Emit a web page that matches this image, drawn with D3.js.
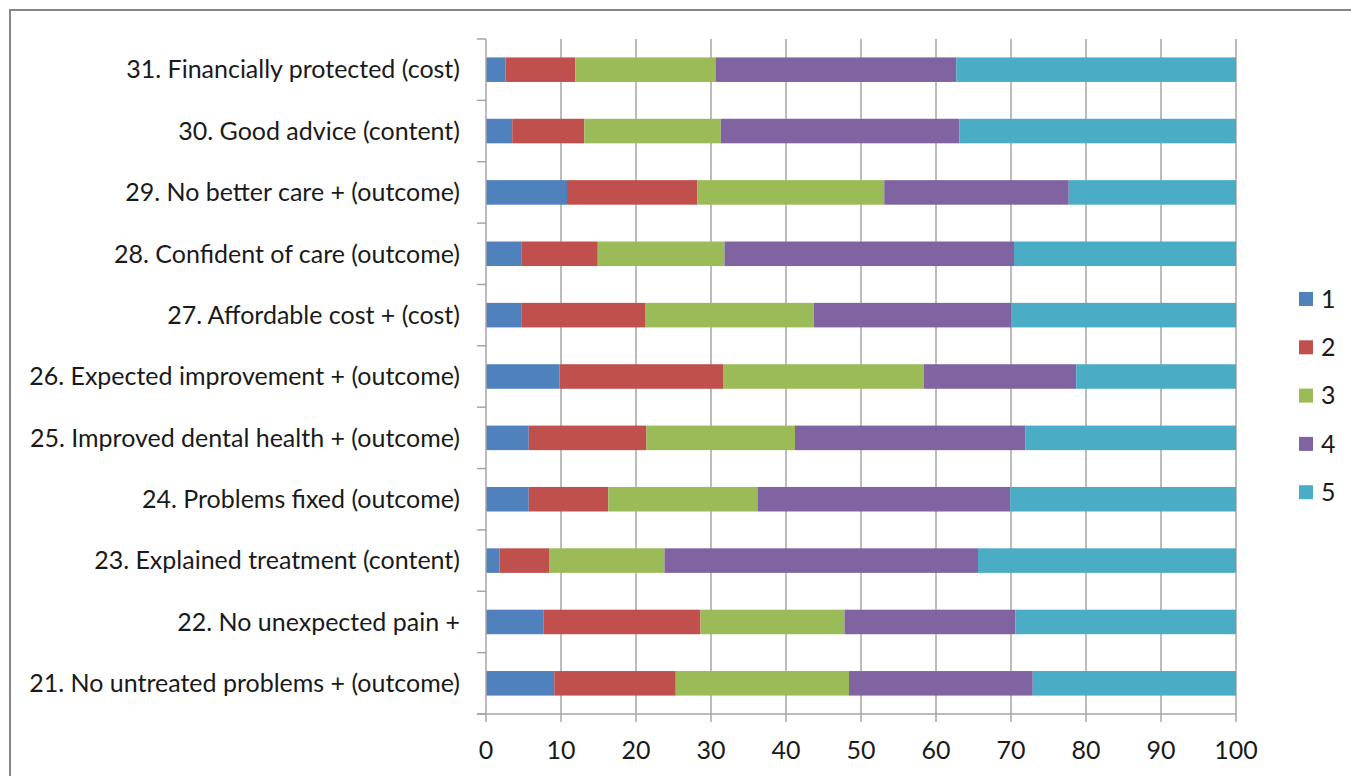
<!DOCTYPE html>
<html>
<head>
<meta charset="utf-8">
<script src="https://cdn.jsdelivr.net/npm/d3@7"></script>
<style>
  html, body { margin: 0; padding: 0; background: #fff; }
  svg { display: block; }
  text { font-family: Lato, "Open Sans", sans-serif; fill: #1a1a1a; }
</style>
</head>
<body>
<svg width="1351" height="776"></svg>
<script>
// questions, top to bottom
var categories = [
    "31. Financially protected (cost)",
    "30. Good advice (content)",
    "29. No better care + (outcome)",
    "28. Confident of care (outcome)",
    "27. Affordable cost + (cost)",
    "26. Expected improvement + (outcome)",
    "25. Improved dental health + (outcome)",
    "24. Problems fixed (outcome)",
    "23. Explained treatment (content)",
    "22. No unexpected pain +",
    "21. No untreated problems + (outcome)"
];

var seriesNames = ["1", "2", "3", "4", "5"];

// percentages per answer, same order as categories
var s1 = [2.6, 3.5, 10.8, 4.7, 4.7, 9.8, 5.7, 5.7, 1.8, 7.7, 9.1];
var s2 = [9.3, 9.6, 17.4, 10.2, 16.5, 21.8, 15.7, 10.6, 6.6, 20.9, 16.2];
var s3 = [18.7, 18.2, 24.9, 16.9, 22.5, 26.8, 19.8, 19.9, 15.4, 19.2, 23.1];
var s4 = [32.1, 31.8, 24.6, 38.6, 26.3, 20.3, 30.7, 33.7, 41.8, 22.8, 24.5];
var s5 = [37.3, 36.9, 22.3, 29.6, 30.0, 21.3, 28.1, 30.1, 34.4, 29.4, 27.1];

var xTicks = [0, 10, 20, 30, 40, 50, 60, 70, 80, 90, 100];

var colors = ["#4f81bd", "#c0504d", "#9bbb59", "#8064a2", "#4bacc6"];

var svg = d3.select("svg");

// chart frame
svg.append("rect")
    .attr("x", 10).attr("y", 10)
    .attr("width", 1400).attr("height", 800)
    .attr("fill", "none")
    .attr("stroke", "#868686")
    .attr("stroke-width", 2);

var x = d3.scaleLinear().domain([0, 100]).range([486, 1236]);
var y = d3.scaleBand().domain(categories).range([39, 714])
    .paddingInner(0.6).paddingOuter(0.3);

var rows = categories.map(function(c, i) {
    return { cat: c, "1": s1[i], "2": s2[i], "3": s3[i], "4": s4[i], "5": s5[i] };
});
var stacked = d3.stack().keys(seriesNames)(rows);

// gridlines
svg.append("g").selectAll("line")
    .data(xTicks.slice(1))
    .enter().append("line")
    .attr("x1", function(d) { return x(d); })
    .attr("x2", function(d) { return x(d); })
    .attr("y1", 39).attr("y2", 714)
    .attr("stroke", "#a6a6a6")
    .attr("stroke-width", 1.5);

// bars
svg.append("g").selectAll("g")
    .data(stacked)
    .enter().append("g")
    .attr("fill", function(d, i) { return colors[i]; })
    .selectAll("rect")
    .data(function(d) { return d; })
    .enter().append("rect")
    .attr("x", function(d) { return x(d[0]); })
    .attr("width", function(d) { return x(d[1]) - x(d[0]); })
    .attr("y", function(d) { return y(d.data.cat); })
    .attr("height", y.bandwidth());

// y axis
var step = y.step();
var yTickPos = d3.range(categories.length + 1).map(function(i) { return 39 + i * step; });
var ya = svg.append("g");
ya.append("line")
    .attr("x1", 486).attr("x2", 486).attr("y1", 39).attr("y2", 714)
    .attr("stroke", "#a6a6a6").attr("stroke-width", 1.5);
ya.selectAll("line.tick")
    .data(yTickPos)
    .enter().append("line")
    .attr("class", "tick")
    .attr("x1", 477).attr("x2", 486)
    .attr("y1", function(d) { return d; })
    .attr("y2", function(d) { return d; })
    .attr("stroke", "#a6a6a6").attr("stroke-width", 1.5);

var labels = ya.selectAll("text")
    .data(categories)
    .enter().append("text")
    .attr("x", 460)
    .attr("y", function(d) { return y(d) + y.bandwidth() / 2; })
    .attr("dy", "0.35em")
    .attr("text-anchor", "end")
    .style("font-size", "21px")
    .text(function(d) { return d; });

// fit label size to the reference width of the longest label
var w = labels.filter(function(d, i) { return i === categories.length - 1; }).node().getComputedTextLength();
var fs = 21 * 431 / w;
labels.style("font-size", fs + "px");

// x axis
var xa = svg.append("g");
xa.append("line")
    .attr("x1", 477).attr("x2", 1236).attr("y1", 714).attr("y2", 714)
    .attr("stroke", "#a6a6a6").attr("stroke-width", 1.5);
xa.selectAll("line.tick")
    .data(xTicks)
    .enter().append("line")
    .attr("class", "tick")
    .attr("x1", function(d) { return x(d); })
    .attr("x2", function(d) { return x(d); })
    .attr("y1", 714).attr("y2", 722)
    .attr("stroke", "#a6a6a6").attr("stroke-width", 1.5);
xa.selectAll("text")
    .data(xTicks)
    .enter().append("text")
    .attr("x", function(d) { return x(d); })
    .attr("y", 750)
    .attr("dy", "0.35em")
    .attr("text-anchor", "middle")
    .style("font-size", fs + "px")
    .text(function(d) { return d; });

// legend
var legend = svg.append("g").selectAll("g")
    .data(seriesNames)
    .enter().append("g")
    .attr("transform", function(d, i) { return "translate(1299," + (299 + i * 48.3) + ")"; });
legend.append("rect")
    .attr("x", 0).attr("y", -7)
    .attr("width", 14).attr("height", 14)
    .attr("fill", function(d, i) { return colors[i]; });
legend.append("text")
    .attr("x", 22).attr("y", 0)
    .attr("dy", "0.35em")
    .style("font-size", fs + "px")
    .text(function(d) { return d; });
</script>
</body>
</html>
